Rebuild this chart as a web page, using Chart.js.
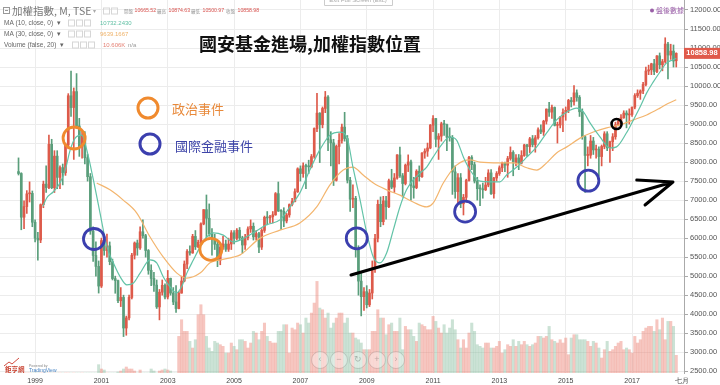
<!DOCTYPE html>
<html lang="zh-Hant">
<head>
<meta charset="UTF-8" />
<title>加權指數 月線</title>
<script src="https://cdn.jsdelivr.net/npm/chart.js"></script>
<style>
  html, body { margin: 0; background: #fff; }
  #wrap { width: 720px; height: 385px; position: relative; }
</style>
</head>
<body>
<div id="wrap"><canvas id="taiex"></canvas></div>
<script>
// monthly candles Jul 1998 .. May 2018, month index 0 = Jan 1999
const firstMonth = -6;

const opens = [
  7750, 7700, 6550, 6830, 7165, 7177,
  6418, 5998, 5950, 6880, 7420, 7330, 8467, 7326, 8157, 7598, 7854, 7720,
  8448, 9744, 9435, 9854, 8951, 8400, 8690, 8114, 7616, 6185, 5544, 5256,
  4739, 5936, 5674, 5797, 5381, 4936, 4883, 4353, 4441, 3636, 3903, 4441,
  5551, 5873, 5742, 6167, 6065, 5675, 5153, 4940, 4764, 4191, 4579, 4760,
  4452, 4942, 4555, 4321, 4148, 4555, 4872, 5318, 5650, 5611, 6045, 5771,
  5890, 6375, 6750, 6522, 6117, 5977, 5839, 5420, 5765, 5845, 5706, 5845,
  6140, 5994, 6207, 6006, 5819, 6012, 6241, 6312, 6033, 6119, 5764, 6203,
  6548, 6532, 6561, 6613, 7171, 6714, 6704, 6452, 6611, 6884, 6963, 7221,
  7823, 7699, 7901, 7884, 7875, 8145, 8883, 9287, 8982, 9411, 9711, 8586,
  8506, 7521, 8412, 8572, 8920, 8619, 7523, 7024, 7046, 5719, 4870, 4460,
  4591, 4248, 4557, 5210, 5993, 6890, 6432, 6979, 6825, 7509, 7340, 7582,
  8188, 7640, 7436, 7920, 8004, 7374, 7329, 7760, 7616, 8238, 8287, 8372,
  8972, 9145, 8600, 8683, 9007, 8988, 8653, 8644, 7741, 7225, 7588, 6904,
  7072, 7517, 8121, 7933, 7501, 7301, 7296, 7271, 7397, 7715, 7166, 7581,
  7700, 7850, 7978, 7919, 8093, 8254, 7996, 8108, 7974, 8173, 8450, 8407,
  8612, 8462, 8640, 8849, 8792, 9075, 9393, 9315, 9436, 8966, 8974, 9187,
  9307, 9361, 9622, 9586, 9820, 9701, 9323, 8665, 8175, 8181, 8554, 8320,
  8338, 8145, 8411, 8744, 8377, 8535, 8666, 8984, 9069, 9166, 9290, 9240,
  9253, 9447, 9750, 9812, 9872, 10041, 10395, 10427, 10585, 10383, 10793, 10560,
  10643, 11104, 10815, 10919, 10665.52
];
const highs = [
  8110, 7720, 6980, 7250, 7480, 7240,
  6480, 6150, 6900, 7500, 7900, 8710, 8600, 8300, 8300, 7900, 7950, 8500,
  9800, 10393, 9950, 10328, 9150, 8800, 8800, 8200, 7700, 6300, 5900, 5400,
  6000, 6100, 6104, 5900, 5450, 5000, 4900, 4700, 4500, 3950, 4500, 5600,
  5900, 5950, 6300, 6484, 6100, 5700, 5300, 5100, 4900, 4650, 4900, 4800,
  5150, 4950, 4700, 4750, 4600, 5000, 5400, 5700, 5800, 6100, 6200, 5950,
  6400, 6750, 7135, 6900, 6250, 6100, 5900, 5850, 6050, 5950, 6000, 6200,
  6200, 6250, 6280, 6050, 6100, 6300, 6480, 6400, 6200, 6150, 6250, 6580,
  6700, 6600, 6700, 7200, 7476, 6750, 6800, 6650, 6900, 7050, 7300, 7850,
  7900, 7980, 7950, 8050, 8200, 8900, 9807, 9300, 9450, 9859, 9750, 8800,
  8600, 8450, 8750, 9000, 9309, 8700, 7600, 7400, 7100, 5800, 5100, 4700,
  4750, 4650, 5400, 6100, 7000, 7084, 7100, 7100, 7550, 7811, 7700, 8200,
  8395, 7700, 7950, 8190, 8050, 7600, 7800, 7900, 8250, 8350, 8500, 8990,
  9220, 9150, 8750, 9050, 9100, 9000, 8900, 8700, 7900, 7700, 7700, 7150,
  7550, 8150, 8170, 8000, 7600, 7400, 7450, 7600, 7800, 7800, 7600, 7750,
  7900, 8000, 8000, 8150, 8400, 8300, 8200, 8200, 8300, 8470, 8470, 8650,
  8700, 8700, 8900, 8980, 9100, 9400, 9569, 9500, 9450, 9050, 9200, 9400,
  9450, 9650, 9700, 10014, 9900, 9750, 9400, 8700, 8400, 8700, 8650, 8450,
  8400, 8450, 8800, 8800, 8550, 8750, 9050, 9150, 9250, 9350, 9350, 9400,
  9450, 9800, 9900, 9900, 10100, 10500, 10550, 10600, 10700, 10800, 10870, 10700,
  11270, 11150, 11100, 11080, 10874.63
];
const lows = [
  7660, 6220, 6250, 6650, 6950, 6300,
  5900, 5422, 5880, 6800, 7200, 7300, 7300, 7200, 7300, 7300, 7400, 7650,
  8350, 9200, 8070, 8900, 8150, 8100, 7950, 7500, 6100, 5390, 5000, 4555,
  4700, 5550, 5500, 5300, 4900, 4550, 4300, 4200, 3411, 3446, 3850, 4400,
  5450, 5550, 5700, 6000, 5500, 5050, 4750, 4600, 4150, 3850, 4500, 4400,
  4400, 4500, 4250, 4044, 4140, 4550, 4850, 5200, 5550, 5600, 5700, 5750,
  5850, 6350, 6020, 6050, 5550, 5700, 5250, 5300, 5700, 5650, 5650, 5700,
  5850, 5950, 5950, 5600, 5700, 5950, 6150, 5950, 5950, 5618, 5700, 6150,
  6350, 6400, 6400, 6600, 6700, 6232, 6300, 6400, 6550, 6850, 6950, 7200,
  7500, 7600, 7300, 7700, 7850, 8100, 8800, 7987, 8900, 9300, 8300, 7900,
  7384, 7500, 7950, 8500, 8550, 7450, 6700, 6800, 5500, 4500, 3955, 4100,
  4164, 4200, 4400, 5100, 5900, 6300, 6350, 6500, 6800, 7300, 7200, 7550,
  7600, 7080, 7400, 7750, 7000, 7050, 7300, 7500, 7600, 8100, 8150, 8350,
  8800, 8400, 8070, 8550, 8700, 8300, 8550, 7150, 7050, 6900, 6800, 6609,
  6950, 7500, 7800, 7450, 7000, 6857, 7050, 7250, 7350, 7150, 7050, 7500,
  7650, 7750, 7750, 7600, 8050, 7640, 7900, 7800, 7950, 8150, 8150, 8250,
  8400, 8260, 8600, 8750, 8700, 9000, 9200, 9150, 8950, 8501, 8900, 8800,
  9100, 9300, 9450, 9500, 9600, 9200, 8600, 7203, 7900, 8100, 8200, 8100,
  7627, 7900, 8350, 8300, 7990, 8300, 8600, 8950, 8950, 9150, 8900, 9000,
  9200, 9400, 9700, 9650, 9800, 10000, 10300, 10300, 10300, 10350, 10450, 10400,
  10600, 10189, 10700, 10500, 10500.97
];
const closes = [
  7700, 6550, 6830, 7165, 7177, 6418,
  5998, 5950, 6880, 7420, 7330, 8467, 7326, 8157, 7598, 7854, 7720, 8448,
  9744, 9435, 9854, 8951, 8400, 8690, 8114, 7616, 6185, 5544, 5256, 4739,
  5936, 5674, 5797, 5381, 4936, 4883, 4353, 4441, 3636, 3903, 4441, 5551,
  5873, 5742, 6167, 6065, 5675, 5153, 4940, 4764, 4191, 4579, 4760, 4452,
  4942, 4555, 4321, 4148, 4555, 4872, 5318, 5650, 5611, 6045, 5771, 5890,
  6375, 6750, 6522, 6117, 5977, 5839, 5420, 5765, 5845, 5706, 5845, 6140,
  5994, 6207, 6006, 5819, 6012, 6241, 6312, 6033, 6119, 5764, 6203, 6548,
  6532, 6561, 6613, 7171, 6714, 6704, 6452, 6611, 6884, 6963, 7221, 7823,
  7699, 7901, 7884, 7875, 8145, 8883, 9287, 8982, 9411, 9711, 8586, 8506,
  7521, 8412, 8572, 8920, 8619, 7523, 7024, 7046, 5719, 4870, 4460, 4591,
  4248, 4557, 5210, 5993, 6890, 6432, 6979, 6825, 7509, 7340, 7582, 8188,
  7640, 7436, 7920, 8004, 7374, 7329, 7760, 7616, 8238, 8287, 8372, 8972,
  9145, 8600, 8683, 9007, 8988, 8653, 8644, 7741, 7225, 7588, 6904, 7072,
  7517, 8121, 7933, 7501, 7301, 7296, 7271, 7397, 7715, 7166, 7581, 7700,
  7850, 7978, 7919, 8093, 8254, 7996, 8108, 7974, 8173, 8450, 8407, 8612,
  8462, 8640, 8849, 8792, 9075, 9393, 9315, 9436, 8966, 8974, 9187, 9307,
  9361, 9622, 9586, 9820, 9701, 9323, 8665, 8175, 8181, 8554, 8320, 8338,
  8145, 8411, 8744, 8377, 8535, 8666, 8984, 9069, 9166, 9290, 9240, 9253,
  9447, 9750, 9812, 9872, 10041, 10395, 10427, 10585, 10383, 10793, 10560, 10643,
  11104, 10815, 10919, 10658, 10858.98
];
// volume in K
const volumes = [
  0, 0, 0, 0, 0, 0,
  0, 0, 0, 0, 0, 0, 0, 0, 0, 0, 0, 0,
  0, 0, 0, 0, 0, 0, 0, 0, 0, 0, 0, 5,
  2.4, 1.8, 0, 0, 0, 0, 0.6, 1.2, 2.4, 3.6, 2.4, 2.4,
  1.2, 0, 1.8, 0, 0, 0, 2.4, 1.2, 0, 1.2, 1.8, 2.4,
  1.8, 1.2, 0, 0, 22, 32, 25, 25, 19, 15, 20, 35,
  41, 35, 22, 15, 13, 19, 18, 17, 16, 12, 12, 18,
  16, 14, 20, 20, 19, 15, 18, 25, 24, 20, 25, 30,
  22, 19, 18, 18, 25, 25, 29, 29, 12, 27, 26, 30,
  29, 24, 33, 30, 36, 42, 55, 39, 38, 33, 36, 27,
  30, 33, 36, 36, 30, 33, 24, 24, 21, 20, 18, 14,
  14, 14, 25, 25, 38, 33, 33, 23, 29, 30, 25, 25,
  33, 14, 28, 26, 26, 22, 19, 30, 29, 28, 26, 26,
  34, 31, 27, 24, 29, 24, 27, 32, 26, 20, 15, 20,
  15, 24, 30, 25, 17, 16, 15, 18, 18, 15, 15, 16,
  19, 12, 14, 17, 16, 20, 16, 19, 17, 19, 17, 16,
  17, 18, 22, 22, 21, 22, 28, 20, 19, 18, 20, 18,
  21, 11, 21, 23, 23, 20, 20, 20, 19, 16, 19, 18,
  15, 9, 14, 19, 13, 14, 16, 18, 19, 14, 15, 14,
  12, 22, 18, 20, 25, 27, 28, 28, 25, 32, 26, 33,
  20, 31, 31, 28, 10.606
];

// moving averages (month index, value)
const ma10Months = [2.8, 4.2, 6.6, 9, 10.9, 12.7, 14.5, 16.9, 18.7, 21.1, 23.5, 26, 28.3, 30.8, 33.2,
  35.6, 38, 41.6, 44, 46.4, 48.8, 51.2, 53, 54.9, 57.3, 59.7, 62.1, 64.5, 68.1, 71.7,
  74.2, 79, 83.8, 88.6, 92.2, 95.8, 99.4, 103, 106.7, 110.3, 112.8, 115, 117.6, 120, 122.4,
  124.8, 127.2, 129.6, 132, 134.4, 136.8, 139.3, 141.7, 144, 146.5, 150, 152.5, 155, 157.4, 161,
  164.6, 168.2, 170.6, 174.3, 177.9, 181.5, 185.1, 188.7, 192.4, 196, 198.4, 200.8, 204.4, 208, 210.4,
  214, 216.5, 218.9, 221.3, 223.7, 226.1, 228.5, 230.9, 232];
const ma10 = [6830, 7055, 7220, 7450, 7790, 8320, 8630, 8710, 8320, 7530, 6660, 5770, 5350, 4980, 4770,
  4820, 5080, 5430, 5350, 4980, 4720, 4560, 4720, 5080, 5430, 5770, 6030, 6140, 6080, 5900,
  5950, 6140, 6350, 6480, 6820, 7190, 7790, 8320, 8710, 8790, 8660, 7870, 7000, 6140, 5500,
  5350, 5610, 6210, 6820, 7270, 7530, 7710, 7870, 8130, 8400, 8660, 8580, 8130, 7790, 7500,
  7480, 7480, 7660, 7870, 8130, 8400, 8770, 9110, 9320, 9420, 9320, 9030, 8660, 8370, 8400,
  8770, 9110, 9450, 9820, 10110, 10370, 10610, 10690, 10732];
const ma30Months = [22.3, 27.1, 31.9, 36.8, 41.6, 46.4, 51.3, 54.9, 59.7, 63.3, 67, 71.7, 74.2, 81.4, 88.6,
  95.8, 101.9, 106.7, 111.5, 115, 118.7, 122.4, 127.2, 132, 136.8, 141.7, 144, 147.7, 152.5, 157.4,
  161, 168.2, 173, 177.9, 181.5, 185.1, 188.7, 192.4, 197.2, 202, 206.8, 211.7, 216.5, 221.3, 226.1,
  229, 232];
const ma30 = [7450, 7270, 7000, 6660, 6030, 5500, 5080, 4950, 5080, 5350, 5430, 5500, 5560, 6000, 6210,
  6400, 6820, 7400, 7790, 7870, 7660, 7450, 7270, 7130, 6950, 6820, 6920, 7450, 7920, 8060,
  8000, 7980, 7980, 7850, 7790, 7980, 8240, 8400, 8630, 8790, 8900, 8980, 9110, 9240, 9420,
  9540, 9639];

const xTickMonths = [0, 24, 48, 72, 96, 120, 144, 168, 192, 216, 234];
const xTickLabels = ['1999', '2001', '2003', '2005', '2007', '2009', '2011', '2013', '2015', '2017', '七月'];
const priceTicks = [2500, 3000, 3500, 4000, 4500, 5000, 5500, 6000, 6500, 7000, 7500, 8000, 8500,
  9000, 9500, 10000, 10500, 11000, 11500, 12000];

// hand-drawn marks (month index, index level)
const eventMonths = [14.1, 21.3, 63.6, 116.4, 155.6, 200.2, 210.4];
const eventValues = [8634, 5977, 5706, 5996, 6695, 7510, 9002];
const eventKinds = ['politics', 'finance', 'politics', 'finance', 'finance', 'finance', 'mark'];
const trendStart = [114.3, 5030];
const trendEnd = [230.8, 7476];
const arrowWings = [[217.7, 7529], [220.7, 6871]];

const upColor = '#dd5a4a';
const downColor = '#5a9e7b';
const upVol = 'rgba(236,128,116,0.45)';
const downVol = 'rgba(130,185,155,0.42)';
const orange = '#f08a2e';
const blue = '#3b3fae';
const cjk = '"Noto Sans CJK TC", sans-serif';
const latin = '"Liberation Sans", Arial, sans-serif';

const isUp = (i) => closes[i] >= opens[i];
const months = closes.map((c, i) => firstMonth + i);

function txt(ctx, s, x, y, font, color, align) {
  ctx.font = font;
  ctx.fillStyle = color;
  ctx.textAlign = align || 'left';
  ctx.textBaseline = 'middle';
  ctx.fillText(s, x, y);
}
function ring(ctx, x, y, r, color, w) {
  ctx.beginPath();
  ctx.arc(x, y, r, 0, Math.PI * 2);
  ctx.strokeStyle = color;
  ctx.lineWidth = w;
  ctx.stroke();
}
function icons(ctx, x, y, n) {
  ctx.strokeStyle = '#d6d6d6';
  ctx.lineWidth = 1;
  for (let k = 0; k < n; k++) ctx.strokeRect(x + k * 8 + 0.5, y - 3, 6, 6);
}

const marks = {
  id: 'marks',
  afterDatasetsDraw(chart) {
    const { ctx, scales: { x, y } } = chart;
    ctx.save();
    eventMonths.forEach((m, i) => {
      const px = x.getPixelForValue(m), py = y.getPixelForValue(eventValues[i]);
      if (eventKinds[i] === 'mark') ring(ctx, px, py, 5, '#000', 2.6);
      else ring(ctx, px, py, eventKinds[i] === 'politics' ? 11 : 10.5,
        eventKinds[i] === 'politics' ? orange : blue, 2.8);
    });
    const end = [x.getPixelForValue(trendEnd[0]), y.getPixelForValue(trendEnd[1])];
    ctx.strokeStyle = '#000';
    ctx.lineWidth = 3;
    ctx.lineCap = 'round';
    ctx.beginPath();
    ctx.moveTo(x.getPixelForValue(trendStart[0]), y.getPixelForValue(trendStart[1]));
    ctx.lineTo(end[0], end[1]);
    arrowWings.forEach(w => {
      ctx.moveTo(x.getPixelForValue(w[0]), y.getPixelForValue(w[1]));
      ctx.lineTo(end[0], end[1]);
    });
    ctx.stroke();
    ctx.restore();
  },
  afterDraw(chart) {
    const ctx = chart.ctx;
    ctx.save();
    // header
    ctx.strokeStyle = '#999'; ctx.lineWidth = 1;
    ctx.strokeRect(3.5, 7.5, 6, 6);
    ctx.beginPath(); ctx.moveTo(5, 10.5); ctx.lineTo(8, 10.5); ctx.stroke();
    txt(ctx, '加權指數, M, TSE', 12, 11, '10.5px ' + cjk, '#777');
    txt(ctx, '▾', 93, 11, '6px ' + latin, '#aaa');
    icons(ctx, 103, 11, 2);
    txt(ctx, '開盤', 124, 11, '4.5px ' + cjk, '#999');
    txt(ctx, '10665.52', 134.5, 11, '5.2px ' + latin, '#d9534f');
    txt(ctx, '最高', 157, 11, '4.5px ' + cjk, '#999');
    txt(ctx, '10874.63', 168.5, 11, '5.2px ' + latin, '#d9534f');
    txt(ctx, '最低', 191, 11, '4.5px ' + cjk, '#999');
    txt(ctx, '10500.97', 202.5, 11, '5.2px ' + latin, '#d9534f');
    txt(ctx, '收盤', 226, 11, '4.5px ' + cjk, '#999');
    txt(ctx, '10858.98', 237.5, 11, '5.2px ' + latin, '#d9534f');
    txt(ctx, 'MA (10, close, 0)  ▾', 4, 23, '6.5px ' + latin, '#666');
    icons(ctx, 68, 23, 3);
    txt(ctx, '10732.2430', 100, 23, '6px ' + latin, '#5fbfa3');
    txt(ctx, 'MA (30, close, 0)  ▾', 4, 34, '6.5px ' + latin, '#666');
    icons(ctx, 68, 34, 3);
    txt(ctx, '9639.1667', 100, 34, '6px ' + latin, '#efb36a');
    txt(ctx, 'Volume (false, 20)  ▾', 4, 45, '6.5px ' + latin, '#666');
    icons(ctx, 72, 45, 3);
    txt(ctx, '10.606K', 103, 45, '6px ' + latin, '#e47f72');
    txt(ctx, 'n/a', 128, 45, '6px ' + latin, '#999');
    // exit full screen tab
    ctx.strokeStyle = '#ccc';
    ctx.fillStyle = 'rgba(255,255,255,0.9)';
    ctx.beginPath(); ctx.rect(324.5, -6.5, 68, 12); ctx.fill(); ctx.stroke();
    txt(ctx, 'Exit Full Screen (Esc)', 358, 0.5, '6px ' + latin, '#aaa', 'center');
    // title
    txt(ctx, '國安基金進場,加權指數位置', 310, 44, 'bold 18px ' + cjk, '#111', 'center');
    // legend
    ring(ctx, 148, 108, 10, orange, 3);
    txt(ctx, '政治事件', 172, 109, '13px ' + cjk, '#e8893a');
    ring(ctx, 150, 144, 10, blue, 3);
    txt(ctx, '國際金融事件', 175, 146, '13px ' + cjk, '#3d44a8');
    // after-hours tag
    ctx.fillStyle = '#9a5fa8';
    ctx.beginPath(); ctx.arc(652, 10.5, 2, 0, Math.PI * 2); ctx.fill();
    txt(ctx, '盤後數據', 656, 10.5, '7px ' + cjk, '#9a5fa8');
    // last price tag
    const ly = chart.scales.y.getPixelForValue(10858.98);
    ctx.fillStyle = '#e05a4b';
    ctx.fillRect(684, ly - 5.5, 36, 11);
    txt(ctx, '10858.98', 702, ly, 'bold 7.5px ' + latin, '#fff', 'center');
    // navigation buttons
    ['‹', '−', '↻', '+', '›'].forEach((s, k) => {
      const cx = 320 + k * 19;
      ctx.fillStyle = 'rgba(255,255,255,0.35)';
      ctx.beginPath(); ctx.arc(cx, 360, 8.5, 0, Math.PI * 2); ctx.fill();
      ring(ctx, cx, 360, 8.5, 'rgba(0,0,0,0.13)', 1);
      txt(ctx, s, cx, 360, '9px ' + latin, 'rgba(0,0,0,0.25)', 'center');
    });
    // logo
    ctx.strokeStyle = '#d24b3e'; ctx.lineWidth = 1;
    ctx.beginPath(); ctx.moveTo(4, 366); ctx.lineTo(9, 362); ctx.lineTo(12, 364); ctx.lineTo(19, 358); ctx.stroke();
    txt(ctx, '鉅亨網', 5, 370, 'bold 6.5px ' + cjk, '#c8402f');
    txt(ctx, 'Powered by', 29, 366, '3.5px ' + latin, '#888');
    txt(ctx, 'TradingView', 29, 370.5, '5px ' + latin, '#4a86c5');
    ctx.restore();
  }
};

new Chart(document.getElementById('taiex'), {
  type: 'bar',
  data: {
    datasets: [
      {
        type: 'line', label: 'MA 10', order: 0,
        data: ma10Months.map((m, i) => ({ x: m, y: ma10[i] })),
        borderColor: '#62c3a7', borderWidth: 1.2, pointRadius: 0,
        cubicInterpolationMode: 'monotone'
      },
      {
        type: 'line', label: 'MA 30', order: 1,
        data: ma30Months.map((m, i) => ({ x: m, y: ma30[i] })),
        borderColor: '#f3b56e', borderWidth: 1.2, pointRadius: 0,
        cubicInterpolationMode: 'monotone'
      },
      {
        label: 'body', order: 2, grouped: false, barThickness: 2, minBarLength: 1,
        data: months.map((m, i) => ({ x: m, y: [opens[i], closes[i]] })),
        backgroundColor: (c) => isUp(c.dataIndex) ? upColor : downColor
      },
      {
        label: 'wick', order: 3, grouped: false, barThickness: 1,
        data: months.map((m, i) => ({ x: m, y: [lows[i], highs[i]] })),
        backgroundColor: (c) => isUp(c.dataIndex) ? upColor : downColor
      },
      {
        label: 'volume', order: 4, grouped: false, barThickness: 2.4, yAxisID: 'yVol',
        data: months.map((m, i) => ({ x: m, y: volumes[i] })),
        backgroundColor: (c) => isUp(c.dataIndex) ? upVol : downVol
      }
    ]
  },
  options: {
    responsive: true,
    maintainAspectRatio: false,
    animation: false,
    devicePixelRatio: 1,
    layout: { padding: 0, autoPadding: false },
    plugins: { legend: { display: false }, tooltip: { enabled: false } },
    scales: {
      x: {
        type: 'linear', min: -12.7, max: 234.8, offset: false,
        grid: {
          offset: false, drawTicks: false,
          color: (c) => c.tick && c.tick.value === 234 ? 'rgba(0,0,0,0)' : '#ececec'
        },
        border: { display: false },
        ticks: {
          autoSkip: false, maxRotation: 0, padding: 4, color: '#444',
          font: { size: 7, family: latin },
          callback: (v) => xTickLabels[xTickMonths.indexOf(v)]
        },
        afterBuildTicks: (axis) => { axis.ticks = xTickMonths.map(v => ({ value: v })); },
        afterFit: (axis) => { axis.height = 12; axis.paddingLeft = 0; axis.paddingRight = 0; }
      },
      y: {
        type: 'linear', position: 'right', min: 2453, max: 12263,
        grid: { color: '#ececec', tickLength: 4, tickColor: '#aaa' },
        border: { color: '#aaa' },
        ticks: {
          padding: 2, color: '#555', font: { size: 7.5, family: latin },
          callback: (v) => v.toFixed(2)
        },
        afterBuildTicks: (axis) => { axis.ticks = priceTicks.map(v => ({ value: v })); },
        afterFit: (axis) => { axis.width = 36; axis.paddingTop = 0; axis.paddingBottom = 0; }
      },
      yVol: { type: 'linear', display: false, min: 0, max: 224 }
    }
  },
  plugins: [marks]
});
</script>
</body>
</html>
